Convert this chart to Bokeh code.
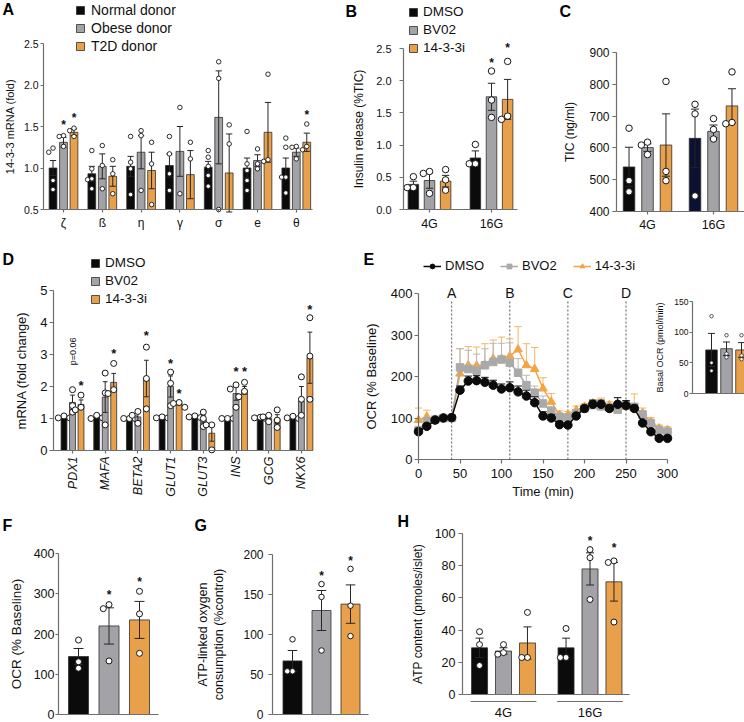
import math
from bokeh.plotting import figure
from bokeh.models import (ColumnDataSource, Legend, LegendItem, Label, LabelSet,
                          FixedTicker, Range1d, PrintfTickFormatter, LinearAxis)
from bokeh.embed import file_html
from bokeh.resources import INLINE
from bokeh.core.properties import value

# ---------------- data ----------------
# Panel A : 14-3-3 isoform mRNA in donor islets
A_genes = ["ζ", "ß", "η", "γ", "σ", "e", "θ"]
A_series = ["Normal donor", "Obese donor", "T2D donor"]
A_normal_mean = [1.00, 0.93, 1.02, 1.03, 1.01, 1.00, 1.00]
A_normal_sem = [0.09, 0.09, 0.12, 0.14, 0.07, 0.12, 0.12]
A_obese_mean = [1.31, 1.02, 1.19, 1.20, 1.61, 1.09, 1.19]
A_obese_sem = [0.06, 0.15, 0.20, 0.30, 0.56, 0.07, 0.05]
A_t2d_mean = [1.43, 0.90, 0.97, 0.92, 0.94, 1.43, 1.31]
A_t2d_sem = [0.04, 0.12, 0.22, 0.29, 0.47, 0.36, 0.11]
A_normal_pts = [[1.24, 1.19, 0.85, 0.74], [1.21, 0.99, 0.87, 0.86, 0.75], [1.38, 1.07, 0.99, 0.68],
                [1.38, 1.17, 0.93, 0.73], [1.21, 1.13, 1.02, 0.91, 0.78], [1.44, 1.05, 0.97, 0.85, 0.73],
                [1.36, 1.25, 0.89, 0.89, 0.70]]
A_obese_pts = [[1.39, 1.38, 1.26], [1.27, 1.03, 0.75], [1.45, 1.39, 0.73], [1.73, 0.69],
               [2.28, 2.08, 0.50], [1.23, 1.05, 0.99], [1.26, 1.25, 1.11]]
A_t2d_pts = [[1.48, 1.45, 1.38], [1.10, 0.93, 0.69], [1.31, 1.05, 0.56], [1.31, 1.11],
             [1.52, 1.29], [2.13, 1.10, 1.08], [1.53, 1.26, 1.22]]
A_star_gene = [0, 0, 6]
A_star_series = [1, 2, 2]
A_star_y = [1.55, 1.64, 1.67]
A_yticks = [0.5, 1.0, 1.5, 2.0, 2.5]

# Panel B : insulin release
B_groups = ["4G", "16G"]
B_series = ["DMSO", "BV02", "14-3-3i"]
B_dmso_mean = [0.39, 0.80]
B_dmso_sem = [0.05, 0.11]
B_dmso_pts = [[0.51, 0.34, 0.34], [1.01, 0.71, 0.71]]
B_bv_mean = [0.45, 1.75]
B_bv_sem = [0.12, 0.21]
B_bv_pts = [[0.59, 0.56, 0.25], [2.15, 1.70, 1.43]]
B_i_mean = [0.44, 1.71]
B_i_sem = [0.09, 0.31]
B_i_pts = [[0.62, 0.46, 0.30], [2.30, 1.45, 1.40]]
B_star_group = [1, 1]
B_star_series = [1, 2]
B_star_y = [2.32, 2.55]
B_yticks = [0.0, 0.5, 1.0, 1.5, 2.0, 2.5]

# Panel C : total insulin content
C_dmso_mean = [540, 630]
C_dmso_sem = [62, 92]
C_dmso_pts = [[662, 497, 462], [737, 707, 449]]
C_bv_mean = [601, 652]
C_bv_sem = [12, 20]
C_bv_pts = [[618, 609, 579], [692, 658, 628]]
C_i_mean = [609, 732]
C_i_sem = [98, 54]
C_i_pts = [[809, 526, 497], [839, 680, 676]]
C_yticks = [400, 500, 600, 700, 800, 900]

# Panel D : beta-cell gene expression
D_genes = ["PDX1", "MAFA", "BETA2", "GLUT1", "GLUT3", "INS", "GCG", "NKX6"]
D_dmso_mean = [1.04, 1.04, 1.00, 1.03, 1.05, 1.00, 1.02, 1.03]
D_dmso_sem = [0.03, 0.04, 0.01, 0.02, 0.02, 0.01, 0.02, 0.03]
D_dmso_pts = [[1.08, 1.02, 1.02], [1.10, 1.00, 1.02], [1.00, 1.00, 1.00], [1.05, 1.02, 1.02],
              [1.08, 1.05, 1.03], [1.00, 1.00, 1.00], [1.04, 1.02, 1.00], [1.07, 1.02, 1.00]]
D_bv_mean = [1.50, 1.67, 1.05, 2.00, 0.98, 1.78, 1.00, 1.55]
D_bv_sem = [0.23, 0.48, 0.15, 0.33, 0.12, 0.21, 0.08, 0.45]
D_bv_pts = [[1.90, 1.40, 1.20], [2.42, 1.80, 0.80], [1.22, 1.10, 0.85], [2.45, 2.10, 1.40],
            [1.20, 1.00, 0.75], [2.05, 1.92, 1.35], [1.10, 1.05, 0.90], [2.30, 1.60, 1.10]]
D_i_mean = [1.44, 2.13, 2.25, 1.47, 0.54, 1.88, 0.98, 2.90]
D_i_sem = [0.14, 0.28, 0.57, 0.05, 0.25, 0.12, 0.14, 0.80]
D_i_pts = [[1.73, 1.35, 1.27], [2.72, 1.90, 1.78], [3.23, 2.25, 1.30], [1.50, 1.47, 1.35],
           [0.80, 0.80, 0.02], [2.13, 1.85, 1.68], [1.27, 0.95, 0.72], [4.15, 2.95, 1.60]]
D_star_gene = [0, 1, 2, 3, 3, 5, 5, 7]
D_star_series = [2, 2, 2, 1, 2, 1, 2, 2]
D_star_y = [2.14, 3.12, 3.70, 2.81, 1.87, 2.55, 2.55, 4.50]
D_pnote = "p=0.06"
D_pnote_gene, D_pnote_series, D_pnote_y = 0, 1, 3.1
D_yticks = [0, 1, 2, 3, 4, 5]

# Panel E : Seahorse OCR trace
E_time = [0, 10, 20, 30, 40, 50, 60, 70, 80, 90, 100, 110, 120, 130, 140, 150,
          160, 170, 180, 190, 200, 210, 220, 230, 240, 250, 260, 270, 280, 290, 300]
E_dmso = [67, 80, 95, 100, 101, 167, 189, 190, 186, 179, 170, 173, 163, 153, 137, 105,
          100, 84, 83, 105, 123, 133, 133, 123, 133, 130, 123, 88, 67, 51, 51]
E_dmso_sem = [8, 6, 4, 3, 3, 10, 12, 12, 12, 12, 12, 14, 14, 14, 14, 10,
              8, 8, 6, 6, 6, 10, 10, 8, 16, 12, 8, 6, 6, 5, 5]
E_bv = [70, 92, 96, 100, 100, 222, 218, 214, 227, 235, 241, 233, 209, 179, 161, 135,
        117, 103, 101, 111, 123, 131, 128, 125, 120, 131, 127, 108, 87, 71, 67]
E_bv_sem = [10, 8, 5, 3, 3, 45, 45, 40, 40, 45, 39, 48, 34, 24, 16, 18,
            10, 8, 8, 8, 8, 8, 8, 8, 8, 8, 8, 10, 10, 8, 8]
E_i = [95, 103, 96, 100, 100, 207, 227, 226, 229, 243, 243, 249, 265, 227, 218, 171,
       139, 107, 108, 119, 127, 135, 133, 131, 127, 127, 123, 112, 91, 75, 71]
E_i_sem = [29, 16, 4, 3, 3, 60, 45, 45, 50, 45, 52, 42, 55, 52, 52, 26,
           20, 10, 8, 10, 8, 8, 15, 8, 10, 10, 35, 12, 10, 8, 8]
E_names = ["DMSO", "BVO2", "14-3-3i"]
E_inj_time = [40, 110, 180, 250]
E_inj_label = ["A", "B", "C", "D"]
E_xticks = [0, 50, 100, 150, 200, 250, 300]
E_yticks = [0, 100, 200, 300, 400]

# Panel E inset : basal OCR
I_mean = [71, 73, 71]
I_sem = [27, 11, 12]
I_pts = [[126, 50, 37], [95, 65, 59], [95, 62, 56]]
I_yticks = [0, 50, 100, 150]

# Panel F : OCR (% baseline)
F_mean = [144, 220, 235]
F_sem = [20, 45, 46]
F_pts = [[185, 131, 115], [273, 263, 133], [306, 250, 152]]
F_star_series = [1, 2]
F_star_y = [304, 337]
F_yticks = [0, 100, 200, 300, 400]

# Panel G : ATP-linked oxygen consumption
G_mean = [67, 130, 138]
G_sem = [13, 25, 24]
G_pts = [[94, 54, 54], [163, 147, 80], [182, 136, 98]]
G_star_series = [1, 2]
G_star_y = [177, 196]
G_yticks = [0, 50, 100, 150, 200]

# Panel H : ATP content
H_dmso_mean = [29, 29]
H_dmso_sem = [6, 6]
H_dmso_pts = [[39, 31, 18], [41, 23, 23]]
H_bv_mean = [27, 78]
H_bv_sem = [2, 10]
H_bv_pts = [[31, 26, 25], [90, 85, 59]]
H_i_mean = [32, 70]
H_i_sem = [10, 12]
H_i_pts = [[51, 23, 23], [83, 82, 45]]
H_star_group = [1, 1]
H_star_series = [1, 2]
H_star_y = [97, 93]
H_yticks = [0, 20, 40, 60, 80, 100]

# ---------------- styles ----------------
FONT = "Liberation Sans"
BLACK = "#0b0b0b"
GRAY = "#a3a3a7"
ORANGE = "#e9a04a"
NAVY = "#0c1031"
EDGE = "#2e2e2e"
ERR = "#262626"
AX = "#6e6e6e"
TXT = "#111111"
E_GRAY = "#a9a9a9"
E_ORANGE = "#f2a541"

# whole page is one canvas; every panel gets its own named ranges laid over it
CL, CT, CR, CB = 0, 0, 744, 722
p = figure(width=CR - CL, height=CB - CT, x_range=Range1d(CL, CR), y_range=Range1d(CB, CT),
           x_axis_location=None, y_axis_location=None, min_border=0, min_border_left=0,
           min_border_right=0, min_border_top=0, min_border_bottom=0,
           output_backend="svg", toolbar_location=None, tools="", title=None)
p.outline_line_color = None
p.background_fill_color = "white"
p.border_fill_color = "white"
for g in p.grid:
    g.visible = False

XR, YR = {}, {}


class Pan:
    """Linear panel mapping defined by two screen anchors per dimension."""

    def __init__(self, name, xa, ya):
        self.name = name
        px0, v0, px1, v1 = xa
        self.kx = (v1 - v0) / (px1 - px0)
        self.px0, self.v0 = px0, v0
        py0, w0, py1, w1 = ya
        self.ky = (w1 - w0) / (py1 - py0)
        self.py0, self.w0 = py0, w0
        self.sx = 1.0 / abs(self.kx)
        self.sy = 1.0 / abs(self.ky)
        XR[name] = Range1d(self.xv(CL), self.xv(CR))
        YR[name] = Range1d(self.yv(CB), self.yv(CT))

    def xv(self, s):
        return self.v0 + (s - self.px0) * self.kx

    def yv(self, s):
        return self.w0 + (s - self.py0) * self.ky

    def kw(self):
        return dict(x_range_name=self.name, y_range_name=self.name)


ROW3 = -3  # bottom row lifted a little so its lowest labels stay on the page
pa = Pan("A", (63, 0, 101.8, 1), (209, 0.5, 43, 2.5))
pb = Pan("B", (429, 0, 491, 1), (209, 0, 48, 2.5))
pc = Pan("C", (647, 0, 713, 1), (211, 400, 52, 900))
pd = Pan("D", (72, 0, 104.7, 1), (450, 0, 290, 5))
pe = Pan("E", (418, 0, 667, 300), (459, 0, 293, 400))
pin = Pan("I", (711, 0, 726, 1), (393, 0, 301, 150))
pf = Pan("F", (78, 0, 108.5, 1), (717 + ROW3, 0, 556 + ROW3, 400))
pg = Pan("G", (292, 0, 321, 1), (717 + ROW3, 0, 557 + ROW3, 200))
ph = Pan("H", (503, 0, 589.5, 1), (697 + ROW3, 0, 536 + ROW3, 100))
p.extra_x_ranges = XR
p.extra_y_ranges = YR


def style_axis(ax, tick_font, label_font=12, tick_out=4, standoff=2, label_standoff=6, color=AX):
    ax.axis_line_color = color
    ax.axis_line_width = 1.2
    ax.major_tick_line_color = color
    ax.major_tick_line_width = 1.2
    ax.major_tick_out = tick_out
    ax.major_tick_in = 0
    ax.minor_tick_line_color = None
    ax.major_label_text_font = FONT
    ax.major_label_text_font_size = f"{tick_font}px"
    ax.major_label_standoff = standoff
    ax.major_label_text_color = TXT
    ax.axis_label_text_font = FONT
    ax.axis_label_text_font_size = f"{label_font}px"
    ax.axis_label_text_font_style = "normal"
    ax.axis_label_standoff = label_standoff
    ax.axis_label_text_color = TXT


def y_axis(pan, loc, bounds, ticks, label, tick_font, label_font, tick_out, standoff, label_standoff, fmt=None):
    ax = LinearAxis(x_range_name=pan.name, y_range_name=pan.name, fixed_location=loc,
                    bounds=bounds, ticker=FixedTicker(ticks=ticks), axis_label=label)
    style_axis(ax, tick_font, label_font, tick_out, standoff, label_standoff)
    if fmt:
        ax.formatter = PrintfTickFormatter(format=fmt)
    p.add_layout(ax, "left")
    return ax


def x_axis(pan, loc, bounds, ticks, labels, tick_font, tick_out, standoff, label=None, label_font=12,
           label_standoff=3):
    ax = LinearAxis(x_range_name=pan.name, y_range_name=pan.name, fixed_location=loc,
                    bounds=bounds, ticker=FixedTicker(ticks=ticks))
    if label:
        ax.axis_label = label
    style_axis(ax, tick_font, label_font, tick_out, standoff, label_standoff)
    if labels:
        ax.major_label_overrides = {t: l for t, l in zip(ticks, labels)}
    p.add_layout(ax, "below")
    return ax


def spread(vals, step, thresh):
    placed, offs = [], []
    for v in vals:
        chosen = 0.0
        for c in (0.0, -step, step, -2 * step, 2 * step):
            if all(abs(v - pv) >= thresh or abs(c - pc) >= step * 0.9 for pv, pc in placed):
                chosen = c
                break
        placed.append((v, chosen))
        offs.append(chosen)
    return offs


def draw_bars(pan, base, xs, means, sems, pts, fills, width, pt_size,
              cap_frac=0.6, pt_lw=1.0):
    if isinstance(fills, str):
        fills = [fills] * len(xs)
    src = ColumnDataSource(dict(x=xs, top=means, fill=fills))
    r = p.vbar(x="x", top="top", bottom=base, width=width, fill_color="fill",
               line_color=EDGE, line_width=0.8, source=src, **pan.kw())
    lo = [m - s for m, s in zip(means, sems)]
    hi = [m + s for m, s in zip(means, sems)]
    cap = width * cap_frac / 2
    p.segment(x0=xs, y0=lo, x1=xs, y1=hi, line_color=ERR, line_width=1, **pan.kw())
    p.segment(x0=[x - cap for x in xs], y0=hi, x1=[x + cap for x in xs], y1=hi,
              line_color=ERR, line_width=1, **pan.kw())
    p.segment(x0=[x - cap for x in xs], y0=lo, x1=[x + cap for x in xs], y1=lo,
              line_color=ERR, line_width=1, **pan.kw())
    px, py = [], []
    step = pt_size / pan.sx * 0.95
    thresh = pt_size / pan.sy
    for x, vals in zip(xs, pts):
        for o, v in zip(spread(vals, step, thresh), vals):
            px.append(x + o)
            py.append(v)
    p.scatter(px, py, marker="circle", size=pt_size, fill_color="white",
              line_color="#161616", line_width=pt_lw, **pan.kw())
    return r


def add_stars(pan, xs, ys, size=13):
    src = ColumnDataSource(dict(x=xs, y=ys, t=["*"] * len(xs)))
    p.add_layout(LabelSet(x="x", y="y", text="t", source=src, text_align="center",
                          text_baseline="middle", text_font=value(FONT),
                          text_font_size=value(f"{size}px"), text_font_style=value("bold"),
                          text_color=TXT, y_offset=-3, **pan.kw()))


def panel_letter(letter, sx, sy):
    p.add_layout(Label(x=sx, y=sy, text=letter, text_font=FONT, text_font_style="bold",
                       text_font_size="16px", text_baseline="top", text_align="left",
                       text_color="#000000"))


def bar_legend(renderers, labels, sx_left, sy_bottom, font, glyph=10, spacing=2, standoff=5):
    lg = Legend(items=[LegendItem(label=l, renderers=[r]) for l, r in zip(labels, renderers)],
                location=(sx_left - CL, CB - sy_bottom))
    lg.border_line_color = None
    lg.background_fill_alpha = 0
    lg.padding = 0
    lg.margin = 0
    lg.spacing = spacing
    lg.glyph_width = glyph
    lg.glyph_height = glyph
    lg.label_height = glyph
    lg.label_standoff = standoff
    lg.label_text_font = FONT
    lg.label_text_font_size = f"{font}px"
    lg.label_text_color = TXT
    p.add_layout(lg)
    return lg


def grouped(pan, base, groups, series, width, off, pt_size, cap_frac, pt_lw=1.0):
    rs = []
    for k, (mean, sem, pts, col) in enumerate(series):
        xs = [g + (k - 1) * off for g in groups]
        rs.append(draw_bars(pan, base, xs, mean, sem, pts, col, width, pt_size, cap_frac, pt_lw))
    return rs


# ---------------- Panel A ----------------
gi = list(range(len(A_genes)))
rA = grouped(pa, 0.5, gi, [(A_normal_mean, A_normal_sem, A_normal_pts, BLACK),
                           (A_obese_mean, A_obese_sem, A_obese_pts, GRAY),
                           (A_t2d_mean, A_t2d_sem, A_t2d_pts, ORANGE)], 0.2, 0.27, 4.5, 0.8, 0.9)
add_stars(pa, [g + (s - 1) * 0.27 for g, s in zip(A_star_gene, A_star_series)], A_star_y, 12)
y_axis(pa, pa.xv(43), (0.5, 2.5), A_yticks, "14-3-3 mRNA (fold)", 10.5, 11, 3, 2, 5, "%.1f")
x_axis(pa, 0.5, (pa.xv(43), pa.xv(312)), gi, A_genes, 12, 3, 3)
bar_legend(rA, A_series, 75, 54, 14, spacing=2, standoff=6)
panel_letter("A", 2, 0)

# ---------------- Panel B ----------------
gb = [0, 1]
rB = grouped(pb, 0, gb, [(B_dmso_mean, B_dmso_sem, B_dmso_pts, BLACK),
                         (B_bv_mean, B_bv_sem, B_bv_pts, GRAY),
                         (B_i_mean, B_i_sem, B_i_pts, ORANGE)], 0.17, 0.26, 6.5, 0.7)
add_stars(pb, [g + (s - 1) * 0.26 for g, s in zip(B_star_group, B_star_series)], B_star_y, 12)
y_axis(pb, pb.xv(403), (0, 2.5), B_yticks, "Insulin release (%TIC)", 11, 12, 4, 8, 7, "%.1f")
x_axis(pb, 0, (pb.xv(403), pb.xv(517)), gb, B_groups, 12.5, 3, 4)
bar_legend(rB, B_series, 408, 55, 13.5, spacing=3)
panel_letter("B", 345, 2)

# ---------------- Panel C ----------------
grouped(pc, 400, gb, [(C_dmso_mean, C_dmso_sem, C_dmso_pts, [BLACK, NAVY]),
                      (C_bv_mean, C_bv_sem, C_bv_pts, GRAY),
                      (C_i_mean, C_i_sem, C_i_pts, ORANGE)], 0.175, 0.28, 6.5, 0.7)
y_axis(pc, pc.xv(616), (400, 900), C_yticks, "TIC (ng/ml)", 12, 12, 4, 3, 9)
x_axis(pc, 400, (pc.xv(616), pc.xv(744)), gb, B_groups, 12.5, 3, 3)
panel_letter("C", 559, 2)

# ---------------- Panel D ----------------
gd = list(range(len(D_genes)))
rD = grouped(pd, 0, gd, [(D_dmso_mean, D_dmso_sem, D_dmso_pts, BLACK),
                         (D_bv_mean, D_bv_sem, D_bv_pts, GRAY),
                         (D_i_mean, D_i_sem, D_i_pts, ORANGE)], 0.18, 0.26, 6, 0.8)
add_stars(pd, [g + (s - 1) * 0.26 for g, s in zip(D_star_gene, D_star_series)], D_star_y, 13)
p.add_layout(Label(x=D_pnote_gene + (D_pnote_series - 1) * 0.26, y=D_pnote_y, text=D_pnote,
                   angle=math.pi / 2, text_align="center", text_baseline="middle",
                   text_font=FONT, text_font_size="9px", text_color=TXT, **pd.kw()))
y_axis(pd, pd.xv(53), (0, 5), D_yticks, "mRNA (fold change)", 13, 13, 4, 2, 8)
axD = x_axis(pd, 0, (pd.xv(53), pd.xv(312)), gd, D_genes, 12.5, 3, 3)
axD.major_label_orientation = math.pi / 2
axD.major_label_text_font_style = "italic"
bar_legend(rD, B_series, 90, 306, 13.5, spacing=3)
panel_letter("D", 2, 250)

# ---------------- Panel E ----------------
E_line_top = 385
p.segment(x0=E_inj_time, y0=[0] * len(E_inj_time), x1=E_inj_time,
          y1=[E_line_top] * len(E_inj_time), line_color="#555555", line_width=1,
          line_dash="2 2", **pe.kw())


def draw_series(t, y, sem, color, err_color, marker, size):
    hi = [a + b for a, b in zip(y, sem)]
    p.segment(x0=t, y0=y, x1=t, y1=hi, line_color=err_color, line_width=1, **pe.kw())
    p.segment(x0=[v - 4.5 for v in t], y0=hi, x1=[v + 4.5 for v in t], y1=hi,
              line_color=err_color, line_width=1, **pe.kw())
    rl = p.line(t, y, line_color=color, line_width=1.5, **pe.kw())
    rs = p.scatter(t, y, marker=marker, size=size, fill_color=color, line_color=color, **pe.kw())
    return [rl, rs]


rEi = draw_series(E_time, E_i, E_i_sem, E_ORANGE, "#f3b567", "triangle", 8.5)
rEb = draw_series(E_time, E_bv, E_bv_sem, E_GRAY, "#b9b9b9", "square", 7.5)
rEd = draw_series(E_time, E_dmso, E_dmso_sem, BLACK, BLACK, "circle", 8.5)
p.add_layout(LabelSet(x="x", y="y", text="t",
                      source=ColumnDataSource(dict(x=E_inj_time, y=[400] * 4, t=E_inj_label)),
                      text_align="center", text_baseline="alphabetic", text_font=value(FONT),
                      text_font_size=value("14px"), text_color=TXT, y_offset=-4, **pe.kw()))
y_axis(pe, 0, (0, 400), E_yticks, "OCR (% Baseline)", 13, 13, 4, 2, 9)
x_axis(pe, 0, (0, 300), E_xticks, None, 13, 4, 5, label="Time (min)", label_font=13, label_standoff=3)
lgE = Legend(items=[LegendItem(label=n, renderers=r) for n, r in zip(E_names, [rEd, rEb, rEi])],
             location=(423 - CL, CB - 273), orientation="horizontal")
lgE.border_line_color = None
lgE.background_fill_alpha = 0
lgE.padding = 0
lgE.margin = 0
lgE.spacing = 16
lgE.glyph_width = 18
lgE.glyph_height = 12
lgE.label_height = 12
lgE.label_standoff = 4
lgE.label_text_font = FONT
lgE.label_text_font_size = "13px"
lgE.label_text_color = TXT
p.add_layout(lgE)
panel_letter("E", 363, 250)

# ---------------- Panel E inset ----------------
gI = [0, 1, 2]
draw_bars(pin, 0, gI, I_mean, I_sem, I_pts, [BLACK, GRAY, ORANGE], 0.77, 3.5, 0.6, 0.7)
y_axis(pin, pin.xv(692), (0, 150), I_yticks, "Basal OCR (pmol/min)", 8.5, 9, 3, 1, 6)
x_axis(pin, 0, (pin.xv(692), pin.xv(744)), [], None, 8, 0, 0)

# ---------------- Panel F ----------------
draw_bars(pf, 0, gI, F_mean, F_sem, F_pts, [BLACK, GRAY, ORANGE], 0.656, 6, 0.5)
add_stars(pf, F_star_series, F_star_y, 12)
y_axis(pf, pf.xv(58), (0, 400), F_yticks, "OCR (% Baseline)", 12.5, 13.5, 3, 1, 7)
x_axis(pf, 0, (pf.xv(58), pf.xv(158)), [], None, 10, 0, 0)
panel_letter("F", 2, 519 + ROW3)

# ---------------- Panel G ----------------
draw_bars(pg, 0, gI, G_mean, G_sem, G_pts, [BLACK, GRAY, ORANGE], 0.655, 5.5, 0.5)
add_stars(pg, G_star_series, G_star_y, 12)
y_axis(pg, pg.xv(272), (0, 200), G_yticks, "ATP-linked oxygen\nconsumption (%control)", 12, 12.5, 4, 5, 14)
x_axis(pg, 0, (pg.xv(272), pg.xv(368)), [], None, 10, 0, 0)
panel_letter("G", 194, 519 + ROW3)

# ---------------- Panel H ----------------
grouped(ph, 0, gb, [(H_dmso_mean, H_dmso_sem, H_dmso_pts, BLACK),
                    (H_bv_mean, H_bv_sem, H_bv_pts, GRAY),
                    (H_i_mean, H_i_sem, H_i_pts, ORANGE)], 0.185, 0.277, 6, 0.5)
add_stars(ph, [g + (s - 1) * 0.277 for g, s in zip(H_star_group, H_star_series)], H_star_y, 12)
y_axis(ph, ph.xv(462), (0, 100), H_yticks, "ATP content (pmoles/islet)", 12.5, 12, 4, 3, 7)
x_axis(ph, 0, (ph.xv(462), ph.xv(629)), [], None, 10, 0, 0)
H_under = ph.yv(704 + ROW3)
p.segment(x0=[g - 0.38 for g in gb], y0=[H_under] * 2, x1=[g + 0.38 for g in gb],
          y1=[H_under] * 2, line_color=AX, line_width=1.2, **ph.kw())
axH = x_axis(ph, H_under, (ph.xv(462), ph.xv(629)), gb, B_groups, 13, 0, 3)
axH.axis_line_color = None
axH.major_tick_line_color = None
panel_letter("H", 397, 515 + ROW3)

open("out.html", "w").write(file_html(p, INLINE, title="14-3-3 figure"))
